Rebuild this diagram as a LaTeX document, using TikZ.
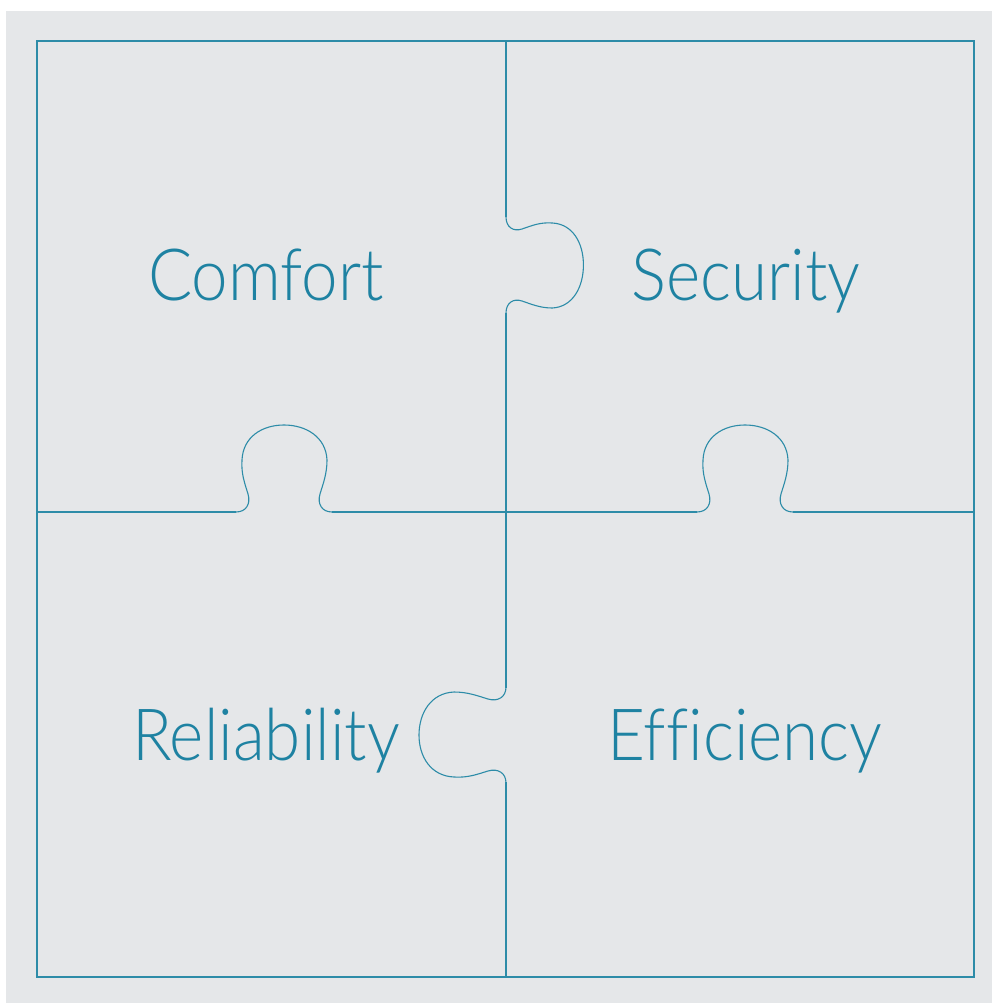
\documentclass[tikz,border=0pt]{standalone}
\usepackage{fontspec}
\setmainfont{Lato Light}[FakeStretch=0.91, Ligatures=NoCommon]
\usetikzlibrary{positioning}
\definecolor{puzteal}{RGB}{30,130,162}
\definecolor{puzline}{RGB}{45,140,168}
\definecolor{puzgray}{RGB}{229,231,233}
\tikzset{
  edge/.style={draw=puzline, line width=1.1pt},
  label/.style={text=puzteal, font=\fontsize{72}{80}\selectfont, anchor=base, inner sep=0pt},
  tab/.pic={
    \draw[edge] (-48,0) .. controls (-38,0) and (-33,-8) .. (-36,-18)
      .. controls (-39,-28) and (-43,-38) .. (-42,-52)
      .. controls (-41,-75) and (-22,-87) .. (0,-87)
      .. controls (22,-87) and (42,-75) .. (43,-52)
      .. controls (43,-38) and (39,-28) .. (36,-18)
      .. controls (33,-8) and (38,0) .. (48,0);
  },
}
\begin{document}
\begin{tikzpicture}[x=1pt, y=-1pt]
  \useasboundingbox (0,0) rectangle (992,1003);
  \fill[puzgray] (6,11) rectangle (992,1003);
  \draw[edge] (37,41) rectangle (974,977);
  \draw[edge] (506,41) -- (506,217) (506,313) -- (506,688) (506,782) -- (506,977);
  \draw[edge] (37,512) -- (236,512) (332,512) -- (697,512) (793,512) -- (974,512);
  \pic at (284,512) {tab};
  \pic at (745,512) {tab};
  \pic[rotate=-90, yscale=0.89] at (506,265) {tab};
  \pic[rotate=90] at (506,735) {tab};
  \node[label] (comfort) at (266,300) {Comfort};
  \node[label] (security) at (746,300) {Security};
  \node[label] (reliability) at (266,760) {Reliability};
  \node[label] (efficiency) at (745,760) {Efficiency};
\end{tikzpicture}
\end{document}
